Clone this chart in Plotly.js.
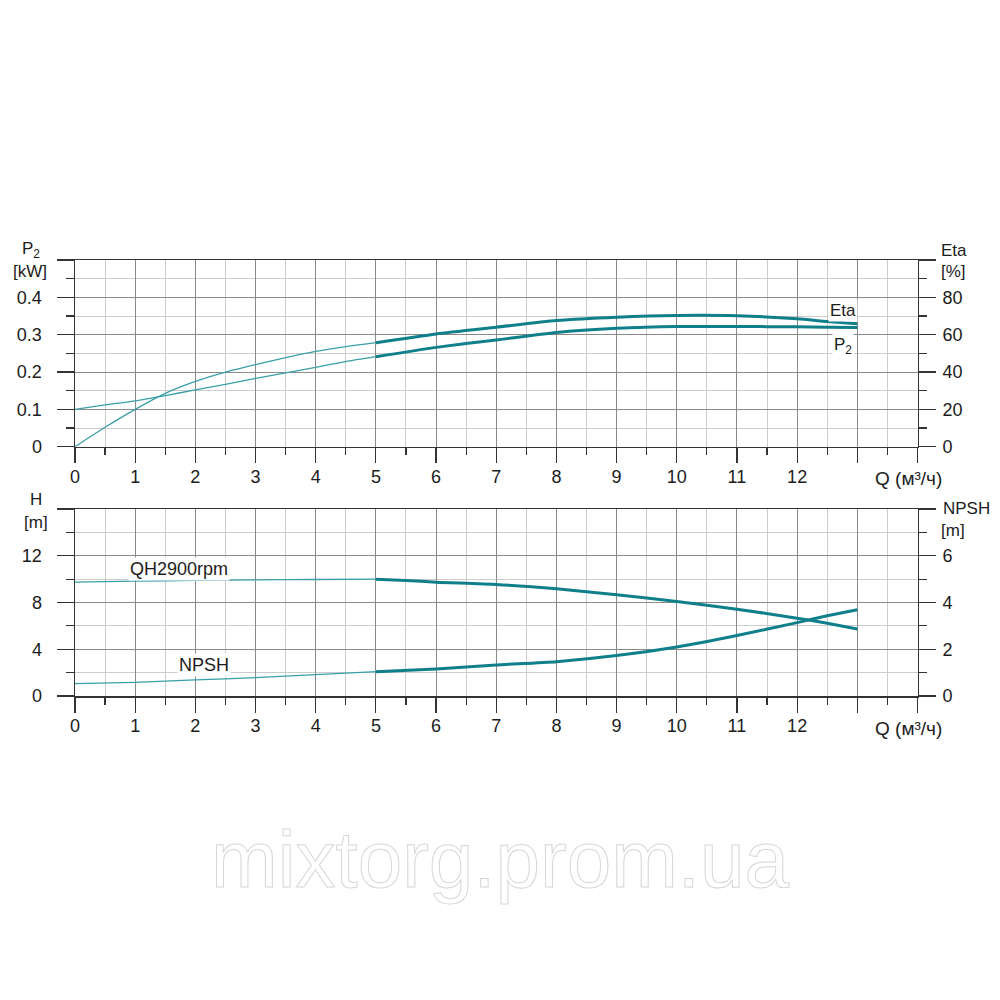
<!DOCTYPE html>
<html>
<head>
<meta charset="utf-8">
<script src="https://cdn.plot.ly/plotly-3.0.1.min.js"></script>
<style>
  html, body { margin: 0; padding: 0; background: #fff; }
  #wrap { position: relative; width: 1000px; height: 1000px; }
  #chart { width: 1000px; height: 1000px; }
  #wm {
    position: absolute; left: 0; top: 820px; width: 1000px; text-align: center;
    font-family: "Liberation Sans", Arial, sans-serif; font-size: 80px; line-height: 80px;
    color: #ffffff; -webkit-text-stroke: 1px #d6d6d6; pointer-events: none;
  }
</style>
</head>
<body>
<div id="wrap">
  <div id="chart"></div>
  <div id="wm">mixtorg.prom.ua</div>
</div>
<script>
// ---- data ----
const qTop = [0, 0.5, 1, 1.5, 2, 2.5, 3, 3.5, 4, 4.5, 5, 6, 7, 8, 9, 10, 11, 12, 12.5, 13];
const p2kW = [0.100, 0.112, 0.123, 0.137, 0.152, 0.167, 0.183, 0.198, 0.2125, 0.228, 0.241, 0.266, 0.286, 0.306, 0.317, 0.322, 0.322, 0.321, 0.320, 0.319];
const etaPct = [0, 10.4, 20, 28.6, 35, 40, 44, 47.7, 51, 53.6, 55.7, 60.4, 64, 67.6, 69.4, 70.3, 70.1, 68.5, 67, 65.8];

const qH = [0, 1, 2, 3, 4, 5, 5.5, 6, 7, 8, 9, 10, 11, 12, 12.5, 13];
const headM = [9.74, 9.83, 9.89, 9.94, 9.97, 10.0, 9.89, 9.74, 9.54, 9.17, 8.66, 8.09, 7.43, 6.66, 6.23, 5.74];

const qNpsh = [0, 1, 2, 3, 4, 5, 6, 7, 8, 9, 10, 11, 12, 12.5, 13];
const npshM = [0.53, 0.586, 0.686, 0.786, 0.914, 1.04, 1.157, 1.33, 1.47, 1.73, 2.1, 2.59, 3.14, 3.43, 3.69];

const qTickVals = [0, 1, 2, 3, 4, 5, 6, 7, 8, 9, 10, 11, 12, 13, 14];
const qTickText = ['0', '1', '2', '3', '4', '5', '6', '7', '8', '9', '10', '11', '12', '', ''];
const p2TickVals = [0, 0.1, 0.2, 0.3, 0.4, 0.5];
const p2TickText = ['0', '0.1', '0.2', '0.3', '0.4', ''];
const etaTickVals = [0, 20, 40, 60, 80, 100];
const etaTickText = ['0', '20', '40', '60', '80', ''];
const hTickVals = [0, 4, 8, 12, 16];
const hTickText = ['0', '4', '8', '12', ''];
const npshTickVals = [0, 2, 4, 6, 8];
const npshTickText = ['0', '2', '4', '6', ''];
const splitQ = 5;

// ---- styling ----
const FONT = '"Liberation Sans", Arial, sans-serif';
const TXT = '#1c1c1c';
const THIN = '#3a9fa8';
const THICK = '#0f7f8b';
const GRID_MAJ = '#8a8a8a';
const GRID_MIN = '#cccccc';
const AXLINE = '#333333';

function part(xs, ys, thin) {
  const ox = [], oy = [];
  for (let i = 0; i < xs.length; i++) {
    if (thin ? xs[i] <= splitQ : xs[i] >= splitQ) { ox.push(xs[i]); oy.push(ys[i]); }
  }
  return { x: ox, y: oy };
}
function tr(xs, ys, thin, xa, ya) {
  const p = part(xs, ys, thin);
  return {
    x: p.x, y: p.y, xaxis: xa, yaxis: ya, type: 'scatter', mode: 'lines',
    line: { color: thin ? THIN : THICK, width: thin ? 1.3 : 3, shape: 'spline', smoothing: 0.6 },
    hoverinfo: 'skip', showlegend: false
  };
}

const traces = [
  tr(qTop, p2kW, true, 'x', 'y'), tr(qTop, p2kW, false, 'x', 'y'),
  tr(qTop, etaPct, true, 'x', 'y2'), tr(qTop, etaPct, false, 'x', 'y2'),
  tr(qH, headM, true, 'x2', 'y3'), tr(qH, headM, false, 'x2', 'y3'),
  tr(qNpsh, npshM, true, 'x2', 'y4'), tr(qNpsh, npshM, false, 'x2', 'y4')
];

const tickFont = { family: FONT, size: 18, color: TXT };

function xAxis(anchor) {
  return {
    domain: [0.075, 0.9175], range: [0, 14], anchor: anchor,
    tickmode: 'array', tickvals: qTickVals, ticktext: qTickText,
    ticks: 'outside', ticklen: 15, tickwidth: 1.2, tickcolor: AXLINE,
    ticklabelstandoff: -2,
    showgrid: true, gridcolor: GRID_MAJ, gridwidth: 1,
    minor: { tick0: 0, dtick: 0.5, ticks: 'outside', ticklen: 7, tickwidth: 1.2, tickcolor: AXLINE, showgrid: true, gridcolor: GRID_MIN, gridwidth: 1 },
    showline: true, linecolor: AXLINE, linewidth: 1.5, mirror: true,
    zeroline: false, tickfont: tickFont, fixedrange: true
  };
}
function yAxis(dom, range, vals, text, minorD, side, overlay, anchor) {
  const a = {
    domain: dom, range: range, anchor: anchor, side: side,
    tickmode: 'array', tickvals: vals, ticktext: text,
    ticks: 'outside', ticklen: 17, tickwidth: 1.2, tickcolor: AXLINE,
    ticklabelstandoff: side === 'left' ? 11 : 3,
    showgrid: !overlay, gridcolor: GRID_MAJ, gridwidth: 1,
    minor: { tick0: 0, dtick: minorD, ticks: 'outside', ticklen: 8, tickwidth: 1.2, tickcolor: AXLINE, showgrid: !overlay, gridcolor: GRID_MIN, gridwidth: 1 },
    showline: true, linecolor: AXLINE, linewidth: 1.5, mirror: !overlay,
    zeroline: false, tickfont: tickFont, fixedrange: true
  };
  if (overlay) a.overlaying = overlay;
  return a;
}

function ann(text, px, py, size, bg) {
  const a = {
    text: text, xref: 'paper', yref: 'paper', x: px / 1000, y: 1 - py / 1000,
    xanchor: 'center', yanchor: 'middle', showarrow: false,
    font: { family: FONT, size: size, color: TXT }
  };
  if (bg) { a.bgcolor = '#ffffff'; a.borderpad = 1; }
  return a;
}

const layout = {
  width: 1000, height: 1000,
  margin: { l: 0, r: 0, t: 0, b: 0 },
  paper_bgcolor: '#ffffff', plot_bgcolor: '#ffffff',
  showlegend: false,
  xaxis: xAxis('y'),
  yaxis: yAxis([0.5533, 0.74], [0, 0.5], p2TickVals, p2TickText, 0.05, 'left', null, 'x'),
  yaxis2: yAxis([0.5533, 0.74], [0, 100], etaTickVals, etaTickText, 10, 'right', 'y', 'x'),
  xaxis2: xAxis('y3'),
  yaxis3: yAxis([0.304, 0.491], [0, 16], hTickVals, hTickText, 2, 'left', null, 'x2'),
  yaxis4: yAxis([0.304, 0.491], [0, 8], npshTickVals, npshTickText, 1, 'right', 'y3', 'x2'),
  annotations: [
    ann('P<sub>2</sub>', 31, 250, 17),
    ann('[kW]', 30, 271, 17),
    ann('Eta', 954, 250, 17),
    ann('[%]', 953, 271, 17),
    ann('H', 36, 499, 17),
    ann('[m]', 36, 522, 17),
    ann('NPSH', 966, 508, 17),
    ann('[m]', 953, 530, 17),
    ann('Q (м³/ч)', 908, 478, 19),
    ann('Q (м³/ч)', 908, 728, 19),
    ann('Eta', 843, 310, 17, true),
    ann('P<sub>2</sub>', 843, 346, 17, true),
    ann('QH2900rpm', 179, 569, 18, true),
    ann('NPSH', 204, 665, 18, true)
  ]
};

Plotly.newPlot('chart', traces, layout, { staticPlot: true, displayModeBar: false });
</script>
</body>
</html>
